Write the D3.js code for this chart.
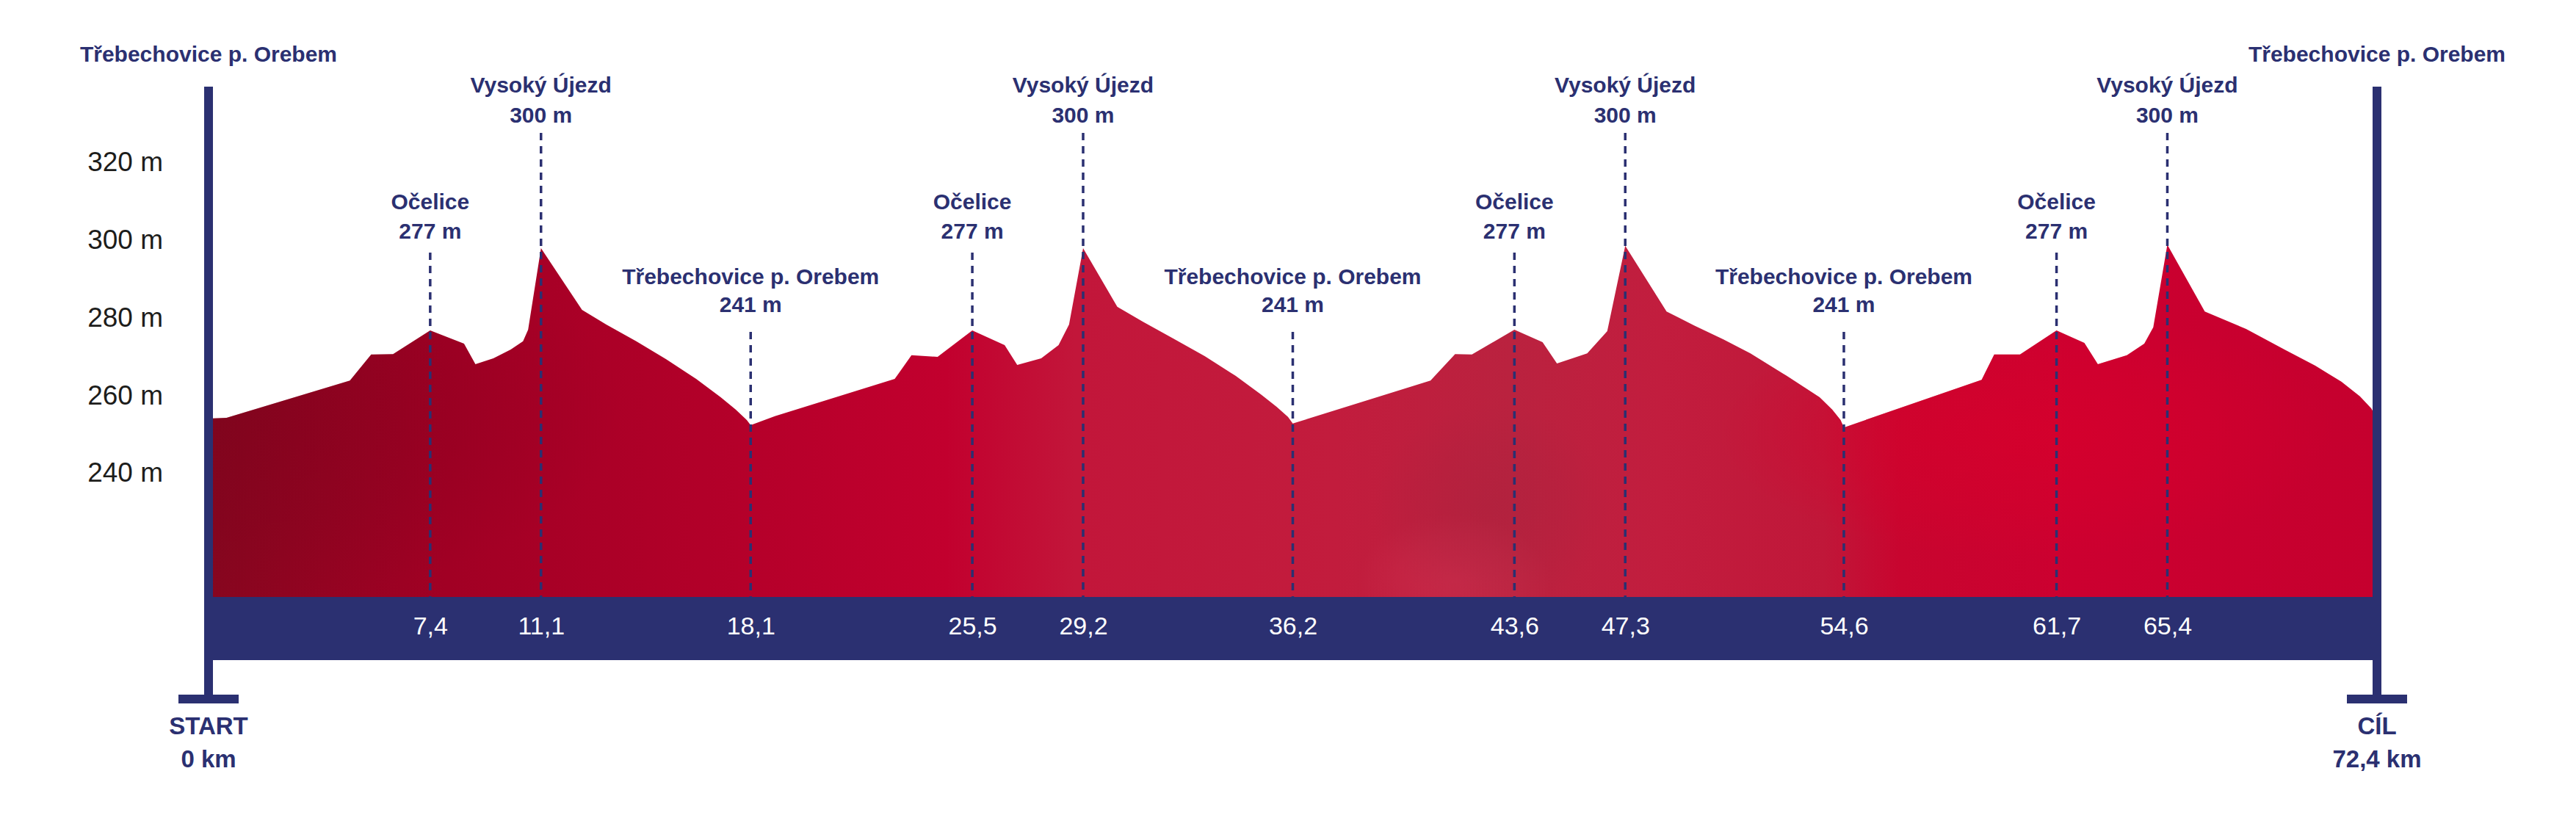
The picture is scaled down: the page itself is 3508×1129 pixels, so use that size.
<!DOCTYPE html>
<html>
<head>
<meta charset="utf-8">
<script src="https://cdn.jsdelivr.net/npm/d3@7"></script>
<style>
  html, body { margin: 0; padding: 0; background: #fff; }
  svg { display: block; }
</style>
</head>
<body>
<svg id="chart" width="3508" height="1129"></svg>
<script>
// Route length and elevation axis ticks
const totalKm = 72.4
const yTicks = [320, 300, 280, 260, 240]

// Named points along the route
const markerKm    = [7.4, 11.1, 18.1, 25.5, 29.2, 36.2, 43.6, 47.3, 54.6, 61.7, 65.4]
const markerPlace = ["Očelice", "Vysoký Újezd", "Třebechovice p. Orebem",
                     "Očelice", "Vysoký Újezd", "Třebechovice p. Orebem",
                     "Očelice", "Vysoký Újezd", "Třebechovice p. Orebem",
                     "Očelice", "Vysoký Újezd"]
const markerElev  = [277, 300, 241, 277, 300, 241, 277, 300, 241, 277, 300]

const startPlace = "Třebechovice p. Orebem"
const finishPlace = "Třebechovice p. Orebem"
const startLabel = ["START", "0 km"]
const finishLabel = ["CÍL", "72,4 km"]

// Elevation profile (km, m), four laps
const profileKm = [
  0, 0.60, 4.72, 5.43, 6.16, 7.4, 8.53, 8.91, 9.51, 10.09, 10.50, 10.67, 11.1,
  12.47, 13.28, 14.28, 15.28, 16.28, 17.10, 17.60, 17.97, 18.1,
  18.91, 22.91, 23.47, 24.34, 25.5, 26.58, 27.00, 27.80, 28.38, 28.73, 29.2,
  30.34, 31.19, 32.22, 33.26, 34.29, 35.14, 35.66, 36.04, 36.2,
  40.80, 41.62, 42.18, 43.6, 44.54, 45.02, 45.61, 46.03, 46.70, 47.3,
  48.68, 49.60, 50.58, 51.48, 52.69, 53.79, 54.21, 54.49, 54.6,
  59.20, 59.62, 60.48, 61.7, 62.63, 63.08, 64.05, 64.63, 64.93, 65.4,
  66.65, 68.03, 69.31, 70.34, 71.21, 71.83, 72.21, 72.4
]
const profileElev = [
  253.7, 253.9, 263.5, 270.2, 270.3, 276.4, 273.0, 267.7, 269.2, 271.5, 273.6, 276.6, 297.6,
  281.7, 277.9, 273.6, 269.0, 263.9, 259.2, 256.0, 253.3, 252.0,
  254.3, 263.9, 270.0, 269.6, 276.4, 272.6, 267.5, 269.2, 272.6, 277.9, 297.6,
  282.5, 278.7, 274.3, 269.8, 264.7, 259.9, 256.7, 254.1, 252.4,
  263.5, 270.3, 270.2, 276.6, 273.4, 267.9, 269.4, 270.5, 276.2, 298.2,
  281.3, 277.7, 274.1, 270.5, 264.7, 259.2, 256.0, 253.3, 251.4,
  263.7, 270.2, 270.2, 276.4, 273.2, 267.7, 270.0, 273.0, 277.2, 298.5,
  281.3, 276.8, 271.5, 267.3, 263.2, 259.4, 256.3, 253.7
]

// Layout
const bandTop = 813, bandBottom = 899
const axisTop = 118, footY = 946
const navy = "#2b3071"
const boldFont = "'Liberation Sans', Arial, sans-serif"
const narrowFont = "'Liberation Sans Narrow', 'Liberation Sans', sans-serif"

// vertical placement of the place labels: name baseline, height baseline, dash top
const rowLayout = {
  "Očelice":                { name: 285, elev: 325, dash: 344 },
  "Vysoký Újezd":           { name: 126, elev: 167, dash: 181 },
  "Třebechovice p. Orebem": { name: 387, elev: 425, dash: 452 }
}

const svg = d3.select("#chart")
const czech = d3.formatLocale({ decimal: ",", thousands: " ", grouping: [3], currency: ["", " Kč"] })
const fmtKm = czech.format(".1f")

const x = d3.scaleLinear().domain([0, totalKm]).range([284, 3237])
const y = d3.scaleLinear().domain([206, 340]).range([822, 114])

const points = profileKm.map((k, i) => ({ km: k, elev: profileElev[i] }))
const markers = markerKm.map((k, i) => ({ km: k, place: markerPlace[i], elev: markerElev[i] }))

// Gradients for the profile fill
const defs = svg.append("defs")

const lin = defs.append("linearGradient")
    .attr("id", "profileFill")
    .attr("gradientUnits", "userSpaceOnUse")
    .attr("x1", x(0)).attr("x2", x(totalKm)).attr("y1", 0).attr("y2", 0)
const linStops = [
  [0.00, "#87061f"], [0.11, "#a10024"], [0.25, "#b5002a"], [0.34, "#c2002e"],
  [0.40, "#c2163a"], [0.52, "#c21c3d"], [0.60, "#ba223f"], [0.67, "#c21d3e"],
  [0.745, "#c01739"], [0.78, "#c8052f"], [0.86, "#cc0030"], [1.00, "#c5002e"]
]
lin.selectAll("stop").data(linStops).join("stop")
    .attr("offset", d => d[0])
    .attr("stop-color", d => d[1])

function radial(id, color, opacity) {
  const g = defs.append("radialGradient").attr("id", id)
  g.append("stop").attr("offset", 0).attr("stop-color", color).attr("stop-opacity", opacity)
  g.append("stop").attr("offset", 0.6).attr("stop-color", color).attr("stop-opacity", opacity * 0.5)
  g.append("stop").attr("offset", 1).attr("stop-color", color).attr("stop-opacity", 0)
}
radial("darkCorner", "#6a0018", 0.25)
radial("brightBlob", "#d8002b", 0.65)
radial("rosySpot", "#d63757", 0.4)
radial("duskSpot", "#a3223d", 0.35)

const area = d3.area()
    .x(d => x(d.km))
    .y0(bandTop)
    .y1(d => y(d.elev))
    .curve(d3.curveLinear)

defs.append("clipPath").attr("id", "profileClip")
    .append("path").attr("d", area(points))

svg.append("path")
    .attr("d", area(points))
    .attr("fill", "url(#profileFill)")

// soft texture inside the profile
const tex = svg.append("g").attr("clip-path", "url(#profileClip)")
const blobs = [
  { id: "darkCorner", cx: 300,  cy: 560, rx: 550, ry: 260 },
  { id: "brightBlob", cx: 2760, cy: 590, rx: 420, ry: 170 },
  { id: "rosySpot",   cx: 1980, cy: 790, rx: 130, ry: 90 },
  { id: "duskSpot",   cx: 2030, cy: 690, rx: 160, ry: 140 }
]
tex.selectAll("ellipse").data(blobs).join("ellipse")
    .attr("cx", d => d.cx).attr("cy", d => d.cy)
    .attr("rx", d => d.rx).attr("ry", d => d.ry)
    .attr("fill", d => `url(#${d.id})`)

// dashed drop lines
svg.append("g").selectAll("line").data(markers).join("line")
    .attr("x1", d => x(d.km)).attr("x2", d => x(d.km))
    .attr("y1", d => rowLayout[d.place].dash)
    .attr("y2", bandTop)
    .attr("stroke", navy)
    .attr("stroke-width", 3.5)
    .attr("stroke-dasharray", "10,8")

// place labels
const lab = svg.append("g")
    .attr("fill", navy)
    .attr("font-family", boldFont)
    .attr("font-weight", "bold")
    .attr("font-size", 30)
    .attr("text-anchor", "middle")
lab.selectAll("text.name").data(markers).join("text")
    .attr("class", "name")
    .attr("x", d => x(d.km))
    .attr("y", d => rowLayout[d.place].name)
    .text(d => d.place)
lab.selectAll("text.elev").data(markers).join("text")
    .attr("class", "elev")
    .attr("x", d => x(d.km))
    .attr("y", d => rowLayout[d.place].elev)
    .text(d => d.elev + " m")

// km band
svg.append("rect")
    .attr("x", x(0) - 6).attr("y", bandTop)
    .attr("width", x(totalKm) - x(0) + 12)
    .attr("height", bandBottom - bandTop)
    .attr("fill", navy)

const kmAxis = svg.append("g")
    .attr("transform", `translate(0,864)`)
    .call(d3.axisBottom(x).tickValues(markerKm).tickFormat(fmtKm).tickSize(0))
kmAxis.select(".domain").remove()
kmAxis.selectAll("text")
    .attr("y", 0).attr("dy", null)
    .attr("fill", "#fff")
    .attr("font-family", narrowFont)
    .attr("font-size", 34)

// elevation ticks
const yAxis = svg.append("g")
    .attr("transform", "translate(222,0)")
    .call(d3.axisLeft(y).tickValues(yTicks).tickFormat(d => d + " m").tickSize(0).tickPadding(0))
yAxis.select(".domain").remove()
yAxis.selectAll("text")
    .attr("dy", "0.36em")
    .attr("fill", "#1d1d1b")
    .attr("font-family", "'Liberation Sans', Arial, sans-serif")
    .attr("font-size", 37)

// start and finish posts
const posts = [
  { km: 0, top: startPlace, foot: startLabel },
  { km: totalKm, top: finishPlace, foot: finishLabel }
]
const post = svg.append("g").selectAll("g").data(posts).join("g")
post.append("rect")
    .attr("x", d => x(d.km) - 6).attr("y", axisTop)
    .attr("width", 12).attr("height", footY + 12 - axisTop)
    .attr("fill", navy)
post.append("rect")
    .attr("x", d => x(d.km) - 41).attr("y", footY)
    .attr("width", 82).attr("height", 12)
    .attr("fill", navy)
post.append("text")
    .attr("x", d => x(d.km)).attr("y", 84)
    .attr("text-anchor", "middle")
    .attr("fill", navy)
    .attr("font-family", boldFont).attr("font-weight", "bold").attr("font-size", 30)
    .text(d => d.top)
post.selectAll("text.foot").data(d => d.foot.map((t, i) => ({ t, i, km: d.km }))).join("text")
    .attr("class", "foot")
    .attr("x", d => x(d.km)).attr("y", d => 1000 + d.i * 45)
    .attr("text-anchor", "middle")
    .attr("fill", navy)
    .attr("font-family", boldFont).attr("font-weight", "bold").attr("font-size", 33)
    .text(d => d.t)
</script>
</body>
</html>
